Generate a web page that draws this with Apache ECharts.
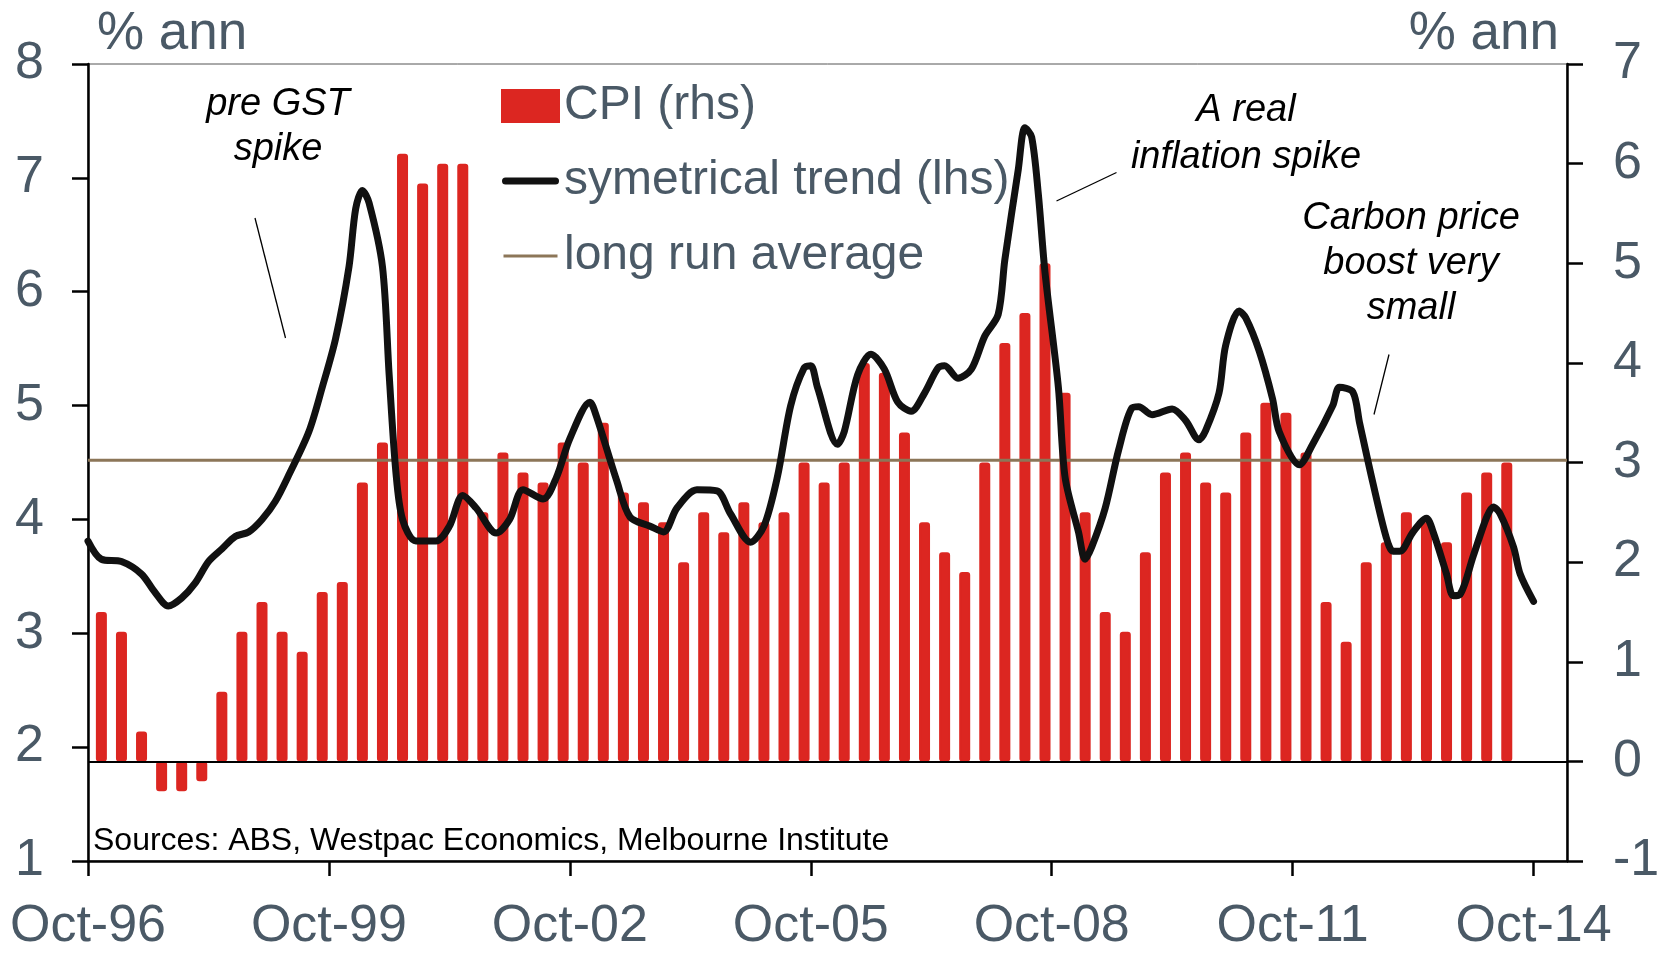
<!DOCTYPE html>
<html><head><meta charset="utf-8">
<script src="https://cdn.jsdelivr.net/npm/echarts@6/dist/echarts.min.js"></script>
<style>html,body{margin:0;padding:0;background:#fff}#c{width:1669px;height:953px}</style>
</head><body><div id="c"></div>
<script>
// x positions are months counted from Oct-96
const xTickLabels = ['Oct-96','Oct-99','Oct-02','Oct-05','Oct-08','Oct-11','Oct-14'];
const xTickMonths = [0, 36, 72, 108, 144, 180, 216];
const xMaxMonth = 221;

// CPI, % ann (rhs) — quarterly, Dec-96 .. Jun-14
const cpiFirstMonth = 2;   // Dec-96
const cpiStepMonths = 3;
const cpiValues = [
  1.5, 1.3, 0.3, -0.3, -0.3, -0.2, 0.7, 1.3, 1.6, 1.3, 1.1, 1.7, 1.8, 2.8, 3.2,
  6.1, 5.8, 6.0, 6.0, 2.5, 3.1, 2.9, 2.8, 3.2, 3.0, 3.4, 2.7, 2.6, 2.4, 2.0,
  2.5, 2.3, 2.6, 2.4, 2.5, 3.0, 2.8, 3.0, 4.0, 3.9, 3.3, 2.4, 2.1, 1.9, 3.0,
  4.2, 4.5, 5.0, 3.7, 2.5, 1.5, 1.3, 2.1, 2.9, 3.1, 2.8, 2.7, 3.3, 3.6, 3.5,
  3.1, 1.6, 1.2, 2.0, 2.2, 2.5, 2.4, 2.2, 2.7, 2.9, 3.0
];

// symetrical trend, % ann (lhs)
const trendMonths = [
  0, 2, 5, 8, 10, 12, 14, 16, 18, 20, 22, 24, 26, 28, 30, 33, 35, 37, 39, 40,
  41, 42, 44, 45, 46, 47, 49, 52, 54, 56, 58, 61, 63, 65, 68, 70, 72, 75, 76, 79,
  81, 84, 86, 88, 91, 94, 96, 99, 101, 103, 105, 107, 108, 109, 112, 113, 115, 117, 119, 121,
  123, 125, 127, 128, 130, 132, 134, 136, 137, 139, 140, 141, 142, 143, 145, 146, 148, 149, 150, 152,
  154, 156, 157, 159, 162, 164, 166, 167, 169, 170, 172, 173, 175, 177, 178, 181, 183, 186, 187, 189,
  190, 192, 194, 195, 196, 198, 200, 201, 203, 204, 205, 207, 209, 210, 211, 213, 214, 216
];
const trendValues = [
  3.81, 3.65, 3.63, 3.52, 3.36, 3.24, 3.31, 3.44, 3.63, 3.74, 3.85, 3.89, 4.00, 4.16, 4.39, 4.77, 5.16, 5.59, 6.22, 6.73,
  6.89, 6.78, 6.22, 5.27, 4.42, 4.00, 3.81, 3.81, 3.94, 4.21, 4.10, 3.88, 4.00, 4.26, 4.18, 4.37, 4.71, 5.03, 4.90, 4.34,
  4.02, 3.94, 3.89, 4.10, 4.26, 4.25, 4.05, 3.80, 3.94, 4.37, 5.00, 5.33, 5.35, 5.16, 4.66, 4.77, 5.27, 5.45, 5.32, 5.03,
  4.95, 5.11, 5.33, 5.35, 5.24, 5.32, 5.61, 5.80, 6.28, 7.07, 7.44, 7.36, 6.86, 6.17, 5.16, 4.37, 3.89, 3.65, 3.76, 4.10,
  4.61, 4.98, 4.99, 4.92, 4.97, 4.87, 4.70, 4.78, 5.11, 5.53, 5.83, 5.77, 5.48, 5.06, 4.77, 4.48, 4.66, 5.00, 5.16, 5.12,
  4.85, 4.32, 3.84, 3.72, 3.72, 3.89, 4.01, 3.89, 3.52, 3.33, 3.34, 3.68, 4.02, 4.11, 4.05, 3.76, 3.52, 3.28
];

const longRunAverage = 4.52; // lhs

const leftTicks = {min: 1, max: 8, interval: 1};
const rightTicks = {min: -1, max: 7, interval: 1};

const FONT = "'Liberation Sans', Arial, sans-serif";
const LABEL = '#4a5966';

const cpiData = cpiValues.map((v, i) => [cpiFirstMonth + cpiStepMonths * i, v]);
const trendData = trendMonths.map((m, i) => [m, trendValues[i]]);
const avgData = [[0, longRunAverage], [xMaxMonth, longRunAverage]];

const chart = echarts.init(document.getElementById('c'), null, {renderer: 'canvas'});

const axisLine = {show: true, onZero: false, lineStyle: {color: '#000', width: 2.5}};
const axisTick = {show: true, inside: false, length: 16, lineStyle: {color: '#000', width: 2.5}};

// legend icons: thick rounded black line, thin brown line (bounding box kept at 57x32)
const trendIcon = 'path://M0,0M57,32M3.5,12.5H53.5A3.5,3.5,0,0,1,53.5,19.5H3.5A3.5,3.5,0,0,1,3.5,12.5Z';
const avgIcon = 'path://M0,0M57,32M1.5,14.6H55.5V17.4H1.5Z';

chart.setOption({
  animation: false,
  backgroundColor: '#fff',
  grid: {left: 88, right: 102, top: 64, bottom: 86, show: true, borderColor: '#555', borderWidth: 1, backgroundColor: 'transparent'},
  legend: {
    orient: 'vertical', left: 501, top: 82, padding: 0,
    itemWidth: 57, itemHeight: 32, itemGap: 27,
    textStyle: {fontSize: 48, color: LABEL, fontFamily: FONT},
    data: [
      {name: 'CPI (rhs)', icon: 'rect'},
      {name: 'symetrical trend (lhs)', icon: trendIcon},
      {name: 'long run average', icon: avgIcon}
    ]
  },
  xAxis: {
    type: 'value', min: 0, max: xMaxMonth,
    axisLine: axisLine,
    axisTick: Object.assign({}, axisTick, {length: 15, customValues: xTickMonths}),
    axisLabel: {
      customValues: xTickMonths, margin: 40, fontSize: 52, color: LABEL, fontFamily: FONT,
      formatter: v => xTickLabels[xTickMonths.indexOf(v)] || ''
    },
    splitLine: {show: false}
  },
  yAxis: [
    {type: 'value', position: 'left', min: leftTicks.min, max: leftTicks.max, interval: leftTicks.interval,
     axisLine: axisLine, axisTick: axisTick,
     axisLabel: {margin: 44, fontSize: 52, color: LABEL, fontFamily: FONT, padding: [4, 0, 0, 0]},
     splitLine: {show: false}},
    {type: 'value', position: 'right', min: rightTicks.min, max: rightTicks.max, interval: rightTicks.interval,
     axisLine: axisLine, axisTick: axisTick,
     axisLabel: {margin: 46, fontSize: 52, color: LABEL, fontFamily: FONT, padding: [4, 0, 0, 0]},
     splitLine: {show: false}}
  ],
  series: [
    {name: 'CPI (rhs)', type: 'bar', yAxisIndex: 1, data: cpiData, barWidth: 11,
     itemStyle: {color: '#dc2621', borderColor: '#dc2621', borderWidth: 2, borderRadius: 2},
     markLine: {silent: true, symbol: 'none', z: 5, label: {show: false},
       lineStyle: {color: '#000', width: 2, type: 'solid'}, data: [{yAxis: 0}]}},
    {name: 'long run average', type: 'line', yAxisIndex: 0, data: avgData, symbol: 'none',
     lineStyle: {color: '#8c7658', width: 3}, itemStyle: {color: '#8c7658'}, z: 3},
    {name: 'symetrical trend (lhs)', type: 'line', yAxisIndex: 0, data: trendData, symbol: 'none',
     smooth: 0.3, lineStyle: {color: '#111', width: 7, cap: 'round', join: 'round'}, itemStyle: {color: '#111'}, z: 4}
  ],
  graphic: [
    {type: 'text', left: 97, top: 8, style: {text: '% ann', font: '53px ' + FONT, fill: LABEL}},
    {type: 'text', right: 1669 - 1559, top: 8, style: {text: '% ann', font: '53px ' + FONT, fill: LABEL}},
    {type: 'text', x: 278, y: 127, style: {text: 'pre GST\nspike', font: 'italic 38px ' + FONT, fill: '#000', align: 'center', verticalAlign: 'middle', lineHeight: 45}},
    {type: 'text', x: 1246, y: 134, style: {text: 'A real\ninflation spike', font: 'italic 38px ' + FONT, fill: '#000', align: 'center', verticalAlign: 'middle', lineHeight: 47}},
    {type: 'text', x: 1411, y: 263, style: {text: 'Carbon price\nboost very\nsmall', font: 'italic 38px ' + FONT, fill: '#000', align: 'center', verticalAlign: 'middle', lineHeight: 45}},
    {type: 'line', shape: {x1: 255, y1: 218, x2: 285.5, y2: 338}, style: {stroke: '#000', lineWidth: 1.3}},
    {type: 'line', shape: {x1: 1056.5, y1: 201, x2: 1116.5, y2: 172.5}, style: {stroke: '#000', lineWidth: 1.3}},
    {type: 'line', shape: {x1: 1389, y1: 354.5, x2: 1374, y2: 414.5}, style: {stroke: '#000', lineWidth: 1.3}},
    {type: 'text', left: 93, top: 825, style: {text: 'Sources: ABS, Westpac Economics, Melbourne Institute', font: '32px ' + FONT, fill: '#000'}}
  ]
});
</script>
</body></html>
